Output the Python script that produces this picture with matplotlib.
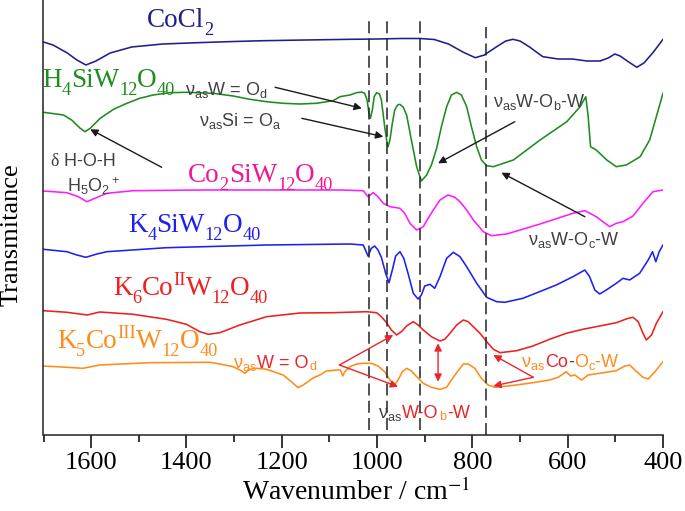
import matplotlib
matplotlib.use("Agg")
import matplotlib.pyplot as plt
from matplotlib.transforms import offset_copy

plt.rcParams['mathtext.rm'] = 'Liberation Sans'
plt.rcParams['mathtext.it'] = 'Liberation Sans:italic'

# ---------------- data (wavenumber / cm-1, transmittance a.u. with offsets) -------------
cocl2_wn = [1700, 1680, 1650, 1630, 1611, 1590, 1560, 1515, 1450, 1378, 1300, 1239, 1150, 1055,
            1000, 950, 910, 880, 850, 820, 794, 775, 750, 730, 715, 700, 680, 660, 652, 620,
            590, 560, 532, 515, 501, 490, 475, 455, 440, 420, 400]
cocl2_t = [393, 390, 382, 375, 370, 374, 382, 388, 391, 392.3, 393.5, 394.3, 395, 395.7,
           396, 396.5, 396.5, 395.5, 391, 383, 377.3, 380, 388, 394, 395.7, 394, 388, 381, 378.3, 376,
           376, 374, 374, 377, 381, 379, 374, 367.7, 372, 383, 395.7]

h4_wn = [1700, 1658, 1641, 1623, 1613, 1602, 1581, 1553, 1525, 1498, 1470, 1435, 1400, 1344,
         1302, 1267, 1232, 1197, 1162, 1127, 1092, 1078, 1057, 1043, 1032, 1026, 1021, 1017,
         1014, 1010, 1006, 1001, 995, 991, 984, 979, 977, 973, 968, 963, 957, 952, 945, 938,
         928, 917, 907, 896, 886, 875, 865, 854, 844, 833, 823, 812, 802, 791, 781, 770, 756,
         714, 658, 602, 574, 562, 557, 552, 540, 518, 498, 477, 448, 428, 414, 400]
h4_t = [322.7, 320, 315, 306.7, 303.3, 306.7, 316.7, 325.7, 331.7, 336.7, 340, 342.3, 342.7, 341.7,
        339, 335.7, 333.3, 331.7, 331, 331.7, 334.3, 338.3, 340, 342.3, 343, 341.7, 335, 321.7,
        316.7, 325, 338.3, 342.3, 341, 335, 308.3, 291.7, 288.3, 295, 311.7, 325, 330, 330.7, 327.7, 320,
        295, 268.3, 254, 260, 270, 286.7, 308.3, 328.3, 340, 342.7, 340, 328.3, 308.3, 288.3, 275, 269.3, 268.3,
        275, 295, 313.3, 328.3, 338.3, 318.3, 288.3, 285, 275, 268.3, 270, 278.3, 295, 318.3, 341.7]

co2_wn = [1700, 1651, 1627, 1609, 1592, 1567, 1512, 1372, 1092, 1078, 1029, 1019, 1008, 998,
          987, 973, 952, 942, 931, 917, 903, 893, 882, 868, 851, 837, 826, 812, 798, 777, 760,
          728, 658, 589, 564, 540, 512, 498, 484, 463, 442, 421, 400]
co2_t = [244, 242.3, 238.3, 233.3, 236.7, 241.7, 244.3, 245, 245, 245, 244.3, 238.3, 242.3, 238.3,
         231.7, 228.3, 226.7, 221.7, 211.7, 205, 208.3, 216.7, 225, 235, 240, 237.7, 233.3, 225, 215, 203.3, 199.3,
         201, 211, 221.7, 224.3, 218.3, 208.3, 211.7, 213.3, 219, 231.7, 243.3, 245]

k4_wn = [1700, 1651, 1630, 1611, 1588, 1567, 1442, 1232, 1057, 1029, 1019, 1012, 1005, 998,
         991, 982, 975, 968, 961, 952, 944, 935, 924, 914, 907, 900, 889, 879, 868, 854, 840,
         826, 812, 791, 770, 749, 732, 694, 659, 624, 589, 564, 554, 543, 533, 519, 498, 484,
         470, 449, 431, 422, 415, 408, 400]
k4_t = [185.7, 183.3, 180, 177.7, 181, 183.3, 187.3, 190, 191, 190, 179, 186.7, 189, 185,
        177.7, 161.7, 152.3, 165, 179, 183.3, 176.7, 161.7, 141.7, 136, 140, 149, 150.7, 146.7, 158.3, 176.7, 182.7,
        178.3, 168.3, 151.7, 137.7, 133.3, 132.7, 136.7, 143.3, 150, 158.3, 165, 158.3, 145, 141, 145, 151.7, 156.7,
        155, 161.7, 175, 183.3, 173.3, 183.3, 190]

k6_wn = [1700, 1651, 1608, 1582, 1512, 1442, 1400, 1372, 1354, 1330, 1288, 1232, 1162, 1092,
         1022, 1001, 991, 980, 970, 959, 949, 938, 924, 914, 903, 886, 868, 858, 847, 833, 819,
         809, 798, 784, 770, 756, 742, 707, 673, 638, 603, 568, 533, 498, 473, 463, 452, 442,
         435, 424, 414, 400]
k6_t = [124.3, 122.7, 120, 123, 120.7, 115.7, 110.7, 103.3, 100.7, 102.3, 110, 118.3, 122, 122.3,
        123.3, 122.3, 118.3, 112.3, 105, 100, 103.3, 109, 113.3, 110, 105, 98.3, 94, 95.7, 101.7, 110, 115,
        113.3, 108.3, 101.7, 93.3, 85.7, 82.3, 84.3, 89, 95.7, 101.7, 105.7, 109, 112.3, 116.7, 117.7, 113.3, 101.7,
        95, 100, 111.7, 123.3]

k5_wn = [1700, 1651, 1617, 1582, 1477, 1351, 1330, 1302, 1288, 1277, 1268, 1253, 1232, 1197,
         1176, 1166, 1155, 1134, 1120, 1106, 1085, 1077, 1072, 1068, 1057, 1043, 1029, 1012, 998,
         984, 973, 963, 956, 947, 938, 928, 917, 903, 886, 868, 854, 844, 833, 819, 809, 795,
         781, 767, 753, 707, 673, 638, 620, 610, 603, 594, 585, 571, 557, 533, 498, 480, 470,
         459, 442, 431, 417, 400]
k5_t = [69, 67.7, 66.7, 70, 72.3, 72.7, 71, 68.3, 65, 61.7, 65.7, 66.7, 65.7, 60,
        51.7, 47.3, 50, 57, 60, 64, 65, 65, 59, 63.3, 68.3, 71, 71.7, 71.7, 69,
        63.3, 55, 50, 55, 63.3, 66.7, 64, 58.3, 51.7, 47.7, 45.7, 47.7, 55, 62.3, 71, 71, 66.7,
        56.7, 50, 47.7, 50, 52.3, 55, 57.7, 61, 63.3, 59, 60, 55, 60, 61.7, 64.3, 69, 70,
        65, 57.7, 56, 63.3, 73.3]

band_positions = [1017, 979, 910, 772]

NAVY, GREEN, MAGENTA, BLUE, RED_C, ORANGE = '#1f1f8c', '#1e8c1e', '#ff1cff', '#1f1ff0', '#ee1f1f', '#ff8c1a'
series = [
    (cocl2_wn, cocl2_t, NAVY),
    (h4_wn, h4_t, GREEN),
    (co2_wn, co2_t, MAGENTA),
    (k4_wn, k4_t, BLUE),
    (k6_wn, k6_t, RED_C),
    (k5_wn, k5_t, ORANGE),
]

# ---------------- figure ----------------
W, H = 685, 511
fig = plt.figure(figsize=(W / 100, H / 100), dpi=100)
ax = fig.add_axes([43.5 / W, (H - 435) / H, (663 - 43.5) / W, 435 / H])

for wn, t, c in series:
    ax.plot(wn, t, color=c, lw=1.15, solid_joinstyle='round')

ax.vlines(band_positions[:3], 5, 417, colors='#2a2a2a', lw=1.15, linestyles=(0, (7.5, 3.3)))
ax.vlines(band_positions[3:], 0, 408, colors='#2a2a2a', lw=1.15, linestyles=(0, (7.5, 3.3)))

ax.set_xlim(1700, 400)
ax.set_ylim(0, 435)
ax.set_yticks([])
ax.set_xticks([1600, 1400, 1200, 1000, 800, 600, 400])
ax.set_xticks(range(1700, 399, -100), minor=True)
ax.tick_params(axis='x', which='major', direction='out', length=9, width=1.1, pad=3,
               labelsize=19, labelfontfamily='Liberation Serif')
ax.tick_params(axis='x', which='minor', direction='out', length=5, width=1.1)
for s in ['top', 'right']:
    ax.spines[s].set_visible(False)
for s in ['left', 'bottom']:
    ax.spines[s].set_linewidth(1.1)
    ax.spines[s].set_color('#222222')

ax.set_xlabel(r'Wavenumber / cm$^{-1}$', fontsize=20, family='Liberation Serif',
              math_fontfamily='stix')
ax.xaxis.label.set_va('baseline')
ax.xaxis.set_label_coords(0.504, -0.149)
ax.set_ylabel('Transmitance', fontsize=19, family='Liberation Serif')
ax.yaxis.label.set_va('center')
ax.yaxis.set_label_coords(-0.051, 0.46)

renderer = fig.canvas.get_renderer()
SERIF = 'Liberation Serif'
SANS = 'Liberation Sans'
GRAY = '#404040'
RED = '#e8262a'


def rich(x, y, pieces, size, family=SANS):
    """pieces: (text, color, kind) with kind in 'n' (normal), 's' (sub), 'p' (sup)."""
    xoff = 0.0
    for piece in pieces:
        s, c = piece[0], piece[1]
        kind = piece[2] if len(piece) > 2 else 'n'
        fam = piece[3] if len(piece) > 3 else family
        if kind == 's':
            fs, dy = size * 0.68, -0.29 * size
        elif kind == 'p':
            fs, dy = size * 0.68, 0.36 * size
        else:
            fs, dy = size, 0.0
        tr = offset_copy(ax.transData, fig=fig, x=xoff, y=dy * 100 / 72, units='dots')
        txt = ax.text(x, y, s, color=c, transform=tr, fontsize=fs, family=fam,
                      math_fontfamily='custom', va='baseline', ha='left')
        xoff += txt.get_window_extent(renderer).width


def formula(x, y, parts, color, size=19.5):
    rich(x, y, [(s, color, k) for s, k in parts], size, SERIF)


# compound labels
formula(1483, 408, [('CoCl', 'n'), ('2', 's')], NAVY)
formula(1703, 348, [('H', 'n'), ('4', 's'), ('SiW', 'n'), ('12', 's'), ('O', 'n'), ('40', 's')], GREEN)
formula(1397, 253, [('Co', 'n'), ('2', 's'), ('SiW', 'n'), ('12', 's'), ('O', 'n'), ('40', 's')], '#f01890')
formula(1523, 203, [('K', 'n'), ('4', 's'), ('SiW', 'n'), ('12', 's'), ('O', 'n'), ('40', 's')], BLUE)
formula(1554, 140, [('K', 'n'), ('6', 's'), ('Co', 'n'), ('II', 'p'), ('W', 'n'), ('12', 's'),
                    ('O', 'n'), ('40', 's')], RED_C)
formula(1672, 87, [('K', 'n'), ('5', 's'), ('Co', 'n'), ('III', 'p'), ('W', 'n'), ('12', 's'),
                   ('O', 'n'), ('40', 's')], ORANGE)

# band annotations
NU = r'ν$_{\mathrm{as}}$'
rich(1403, 340, [(NU + r'W = O$_{\mathrm{d}}$', GRAY)], 13)
rich(1374, 309, [(NU + r'Si = O$_{\mathrm{a}}$', GRAY)], 13)
rich(1686, 269, [('δ', GRAY, 'n', SERIF), (' H-O-H', GRAY)], 13)
rich(1651, 243, [(r'H$_5$O$_2$$^+$', GRAY)], 13)
rich(756, 328, [(NU + r'W-O$_{\mathrm{b}}$-W', GRAY)], 13)
rich(683, 190, [(NU + r'W-O$_{\mathrm{c}}$-W', GRAY)], 13)
rich(1302, 67, [(NU, ORANGE), ('W = O', RED), (r'$_{\mathrm{d}}$', ORANGE)], 13)
rich(697, 68, [(NU, ORANGE), ('Co', RED), ('-', GRAY), (r'O$_{\mathrm{c}}$-W', ORANGE)], 13)
rich(998, 17, [(NU, GRAY), ('W-O', RED), (r'$_{\mathrm{b}}$', ORANGE), ('-W', RED)], 13)


def arrow(start, end, color, style='-|>'):
    ax.annotate('', xy=end, xytext=start,
                arrowprops=dict(arrowstyle=style, color=color, lw=1.0, mutation_scale=11,
                                shrinkA=0, shrinkB=0))


arrow((1452, 267.7), (1602, 305.7), '#1a1a1a')
arrow((1214, 347.7), (1032, 326.7), '#1a1a1a')
arrow((1158, 316.7), (987, 298.3), '#1a1a1a')
arrow((711, 313.3), (872, 271.7), '#1a1a1a')
arrow((564, 218.3), (739, 262.3), '#1a1a1a')
arrow((1079, 70), (966, 100), RED)
arrow((1079, 70), (956, 48.3), RED)
arrow((872, 53.3), (872, 91.7), RED, '<|-|>')
arrow((672, 57.7), (756, 80), RED)
arrow((672, 57.7), (756, 49), RED)

fig.savefig('out.png', dpi=100)
